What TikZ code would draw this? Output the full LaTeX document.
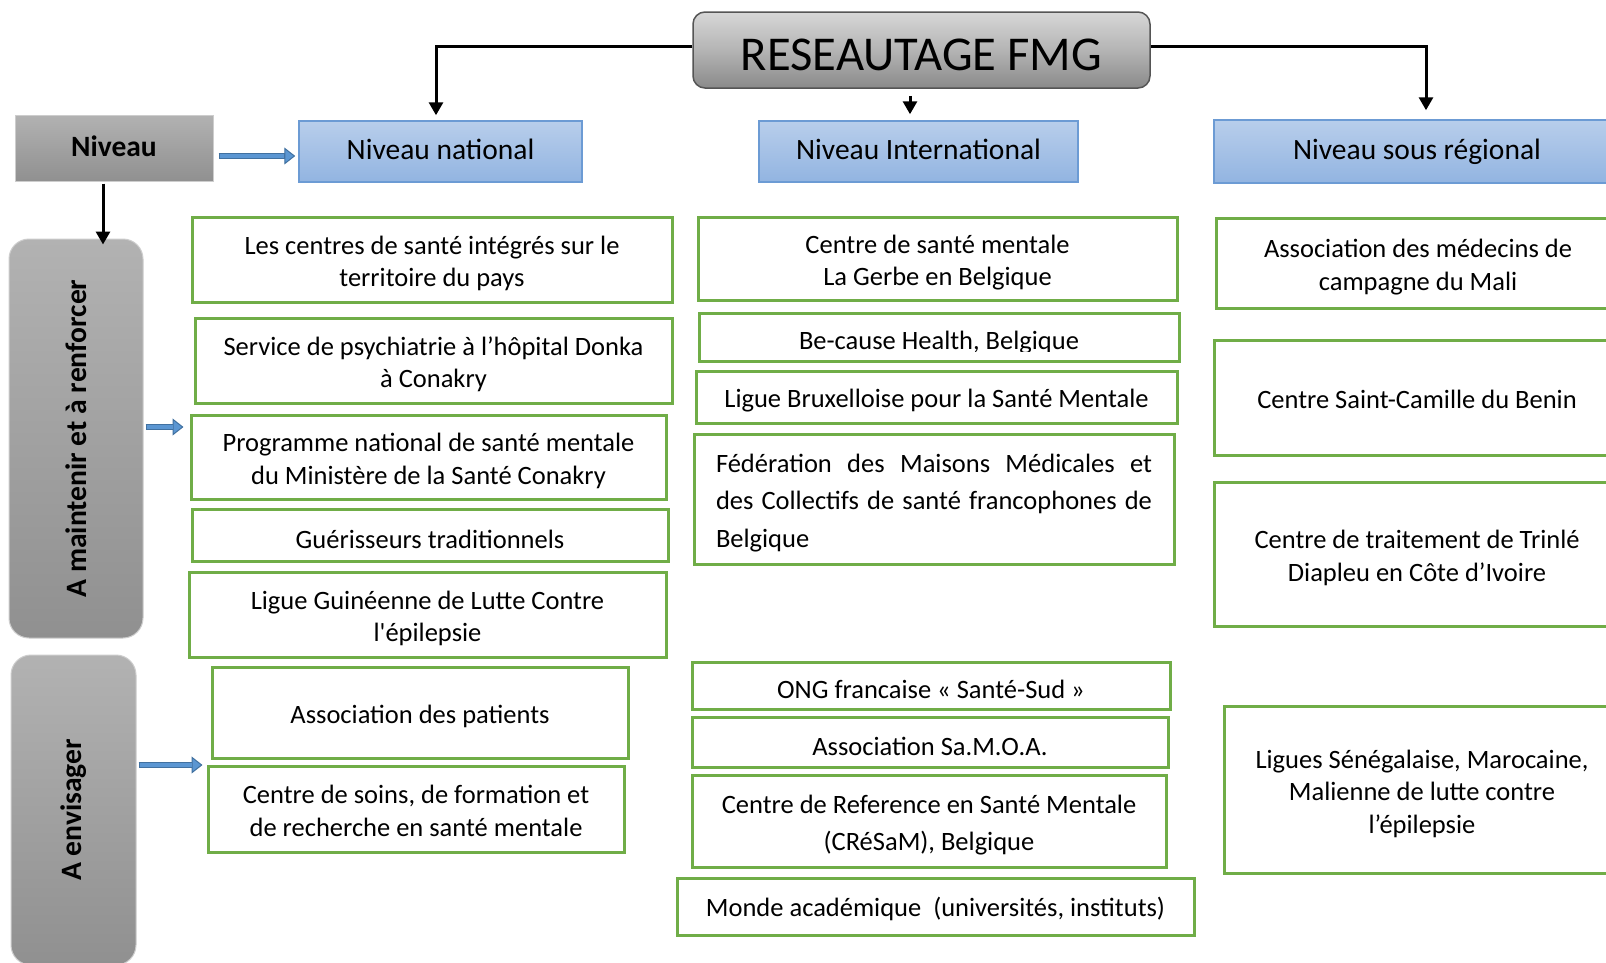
\documentclass[tikz,border=0pt]{standalone}
\usepackage{fontspec}
\setmainfont{Carlito}
\usetikzlibrary{arrows.meta}
\definecolor{gborder}{RGB}{112,173,71}
\definecolor{hdrtop}{RGB}{184,206,235}
\definecolor{hdrbot}{RGB}{146,180,225}
\definecolor{hdrborder}{RGB}{108,155,212}
\definecolor{graytop}{RGB}{178,178,178}
\definecolor{graybot}{RGB}{144,144,144}
\definecolor{grayborder}{RGB}{205,205,205}
\definecolor{bluedark}{RGB}{65,113,160}
\definecolor{bluelight}{RGB}{91,150,210}
\definecolor{titleborder}{RGB}{85,85,85}
\definecolor{titletop}{RGB}{215,215,215}
\definecolor{titlemid}{RGB}{180,180,180}
\definecolor{titlebot}{RGB}{138,138,138}
\newcommand\bodyfont{\fontsize{26.5}{32.5}\selectfont}
% \boxtext[text options]{box style}{name}{x}{y}{width}{height}{text}
\newcommand\boxtext[8][]{%
  \node[#2, minimum width=#6, minimum height=#7] (#3) at (#4,#5) {};
  \node[gtext, #1] (#3t) at (#3.center) {#8};
}
\begin{document}
\begin{tikzpicture}[x=1pt,y=-1pt,
  gbox/.style={draw=gborder, line width=3pt, fill=white, inner sep=0pt},
  gtext/.style={font=\bodyfont, align=center, inner sep=0pt, yshift=-4pt},
  hdr/.style={draw=hdrborder, line width=1.5pt, top color=hdrtop, bottom color=hdrbot, inner sep=0pt},
  hdrtext/.style={font=\fontsize{29.5}{35}\selectfont, yshift=6pt},
  graybox/.style={draw=grayborder, line width=1pt, top color=graytop, bottom color=graybot, inner sep=0pt},
  conn/.style={line width=3pt, -{Triangle[length=13pt,width=14pt]}},
  bluearr/.style={draw=bluedark, line width=6.5pt, -{Triangle[length=11pt,width=17pt,line width=1pt,fill=bluelight]}},
  blueshaft/.style={draw=bluelight, line width=3.5pt},
  vtext/.style={font=\fontsize{29.6}{35}\selectfont\bfseries, rotate=90}
]
\useasboundingbox (0,0) rectangle (1606,962);
\clip (0,0) rectangle (1606,962);
\fill[white] (0,0) rectangle (1606,962);

% title
\boxtext[font=\fontsize{48.6}{56}\selectfont, yshift=-1pt]
  {draw=titleborder, line width=1.5pt, rounded corners=12pt, top color=titletop, bottom color=titlebot, middle color=titlemid, inner sep=0pt}
  {title}{921.5}{50}{457}{76}{RESEAUTAGE FMG}

% headers
\boxtext[hdrtext]{hdr}{nat}{440.5}{151.5}{283}{61}{Niveau national}
\boxtext[hdrtext]{hdr}{intl}{918.5}{151.5}{319}{61}{Niveau International}
\boxtext[hdrtext, yshift=-2pt]{hdr}{sr}{1417}{151.5}{406}{63}{Niveau sous régional}

% left gray boxes
\boxtext[font=\fontsize{29.5}{35}\selectfont\bfseries, yshift=6pt]{graybox}{niv}{114}{148}{198}{66}{Niveau}
\node[graybox, rounded corners=20pt, minimum width=134, minimum height=399] (maint) at (76,438.5) {};
\node[vtext] (maintt) at (maint.center) {A maintenir et à renforcer};
\node[graybox, rounded corners=20pt, minimum width=125, minimum height=310] (env) at (73.5,810) {};
\node[vtext] (envt) at (env.center) {A envisager};

% national column
\boxtext{gbox}{n1}{432}{259.5}{480}{85}{Les centres de santé intégrés sur le\\territoire du pays}
\boxtext{gbox}{n2}{433.5}{360.5}{477}{85}{Service de psychiatrie à l’hôpital Donka\\à Conakry}
\boxtext{gbox}{n3}{428.5}{457}{475}{84}{Programme national de santé mentale\\du Ministère de la Santé Conakry}
\boxtext{gbox}{n4}{430}{535}{476}{52}{Guérisseurs traditionnels}
\boxtext{gbox}{n5}{427.5}{614.5}{477}{85}{Ligue Guinéenne de Lutte Contre\\l\textquotesingle{}épilepsie}
\boxtext{gbox}{n6}{420}{712.5}{416}{91}{Association des patients}
\boxtext[yshift=2pt]{gbox}{n7}{416}{809}{416}{86}{Centre de soins, de formation et\\de recherche en santé mentale}

% international column
\boxtext{gbox}{i1}{937.5}{258.5}{479}{83}{Centre de santé mentale\\La Gerbe en Belgique}
\node[gbox, minimum width=480, minimum height=48] (i2) at (939,337) {};
\begin{scope}
  \clip ([xshift=2pt,yshift=-2pt]i2.north west) rectangle ([xshift=-2pt,yshift=11pt]i2.south east);
  \node[font=\bodyfont, anchor=base, inner sep=0pt] (i2t) at ([yshift=-12pt]i2.center) {Be-cause Health, Belgique};
\end{scope}
\boxtext{gbox}{i3}{936.5}{397}{481}{52}{Ligue Bruxelloise pour la Santé Mentale}
\boxtext[text width=436, align=justify, font=\fontsize{26.5}{37.5}\selectfont]{gbox}{i4}{934}{499}{480}{130}
  {Fédération des Maisons Médicales et\linebreak des Collectifs de santé francophones de\linebreak Belgique}
\boxtext{gbox}{i5}{931}{685.5}{478}{47}{ONG francaise « Santé-Sud »}
\boxtext{gbox}{i6}{930}{742}{476}{50}{Association Sa.M.O.A.}
\boxtext[font=\fontsize{26.5}{36.7}\selectfont]{gbox}{i7}{929}{821}{474}{92}{Centre de Reference en Santé Mentale\\(CRéSaM), Belgique}
\boxtext[yshift=2pt]{gbox}{i8}{935.5}{906.5}{517}{57}{Monde académique\ \ (universités, instituts)}

% sous-regional column
\boxtext{gbox}{r1}{1418}{263}{404}{90}{Association des médecins de\\campagne du Mali}
\boxtext[yshift=2pt]{gbox}{r2}{1417}{397.5}{406}{115}{Centre Saint-Camille du Benin}
\boxtext{gbox}{r3}{1417}{554}{406}{144}{Centre de traitement de Trinlé\\Diapleu en Côte d’Ivoire}
\boxtext{gbox}{r4}{1422}{789.5}{396}{167}{Ligues Sénégalaise, Marocaine,\\Malienne de lutte contre\\l’épilepsie}

% black connectors
\draw[conn] ([yshift=4pt]title.west) -| ([xshift=-4.5pt,yshift=5pt]nat.north);
\draw[conn] ([yshift=4pt]title.east) -| ([xshift=9pt,yshift=9pt]sr.north);
\draw[conn] ([xshift=-11.5pt,yshift=-7pt]title.south) -- ([xshift=-11.5pt,yshift=6pt]title.south |- intl.north);
\draw[conn] ([xshift=-11pt,yshift=-2pt]niv.south) -- ([xshift=-11pt,yshift=-6pt]niv.south |- maint.north);

% blue arrows
\draw[bluearr] ([xshift=5pt,yshift=-8pt]niv.east) -- ([xshift=-3pt,yshift=-8pt]niv.east -| nat.west);
\draw[blueshaft] ([xshift=6pt,yshift=-8pt]niv.east) -- ([xshift=-14pt,yshift=-8pt]niv.east -| nat.west);
\draw[bluearr] ([xshift=2pt,yshift=11.5pt]maint.east) -- ([xshift=-6pt,yshift=11.5pt]maint.east -| n3.west);
\draw[blueshaft] ([xshift=3pt,yshift=11.5pt]maint.east) -- ([xshift=-17pt,yshift=11.5pt]maint.east -| n3.west);
\draw[bluearr] ([xshift=2pt,yshift=45pt]env.east) -- ([xshift=-4pt,yshift=45pt]env.east -| n7.west);
\draw[blueshaft] ([xshift=3pt,yshift=45pt]env.east) -- ([xshift=-15pt,yshift=45pt]env.east -| n7.west);
\end{tikzpicture}
\end{document}
